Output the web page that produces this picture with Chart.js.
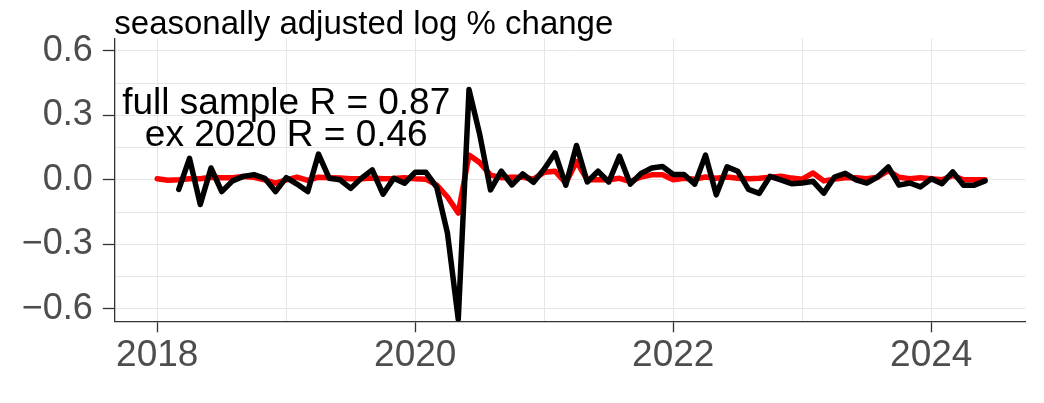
<!DOCTYPE html>
<html lang="en">
<head>
  <meta charset="UTF-8">
  <title>seasonally adjusted log % change</title>
  <script src="https://cdn.jsdelivr.net/npm/chart.js"></script>
  <style>
    body { margin: 0; background: #fff; }
    #wrap { width: 1044px; height: 403px; }
  </style>
</head>
<body>
  <div id="wrap"><canvas id="grafico" width="1044" height="403"></canvas></div>

  <script>
    // monthly observations, Jan 2018 - Jun 2024
    const months = [
      '2018-01','2018-02','2018-03','2018-04','2018-05','2018-06','2018-07','2018-08','2018-09','2018-10','2018-11','2018-12',
      '2019-01','2019-02','2019-03','2019-04','2019-05','2019-06','2019-07','2019-08','2019-09','2019-10','2019-11','2019-12',
      '2020-01','2020-02','2020-03','2020-04','2020-05','2020-06','2020-07','2020-08','2020-09','2020-10','2020-11','2020-12',
      '2021-01','2021-02','2021-03','2021-04','2021-05','2021-06','2021-07','2021-08','2021-09','2021-10','2021-11','2021-12',
      '2022-01','2022-02','2022-03','2022-04','2022-05','2022-06','2022-07','2022-08','2022-09','2022-10','2022-11','2022-12',
      '2023-01','2023-02','2023-03','2023-04','2023-05','2023-06','2023-07','2023-08','2023-09','2023-10','2023-11','2023-12',
      '2024-01','2024-02','2024-03','2024-04','2024-05','2024-06'
    ];

    const redSeries = [
      0.005, -0.002, 0.000, 0.005, 0.005, 0.012, 0.010, 0.010, 0.015, 0.012, 0.000, -0.016,
      0.000, 0.012, -0.003, 0.012, 0.010, 0.008, 0.005, 0.005, 0.008, 0.005, 0.006, 0.010,
      0.005, 0.003, -0.025, -0.080, -0.155, 0.115, 0.080, 0.022, 0.010, 0.012, 0.012, 0.003,
      0.035, 0.040, -0.015, 0.085, 0.000, 0.000, 0.000, 0.007, -0.008, 0.013, 0.023, 0.023,
      0.000, 0.007, 0.003, 0.013, 0.007, 0.013, 0.007, 0.005, 0.007, 0.012, 0.017, 0.008,
      0.003, 0.032, -0.005, 0.003, 0.010, 0.010, 0.005, 0.012, 0.043, 0.012, 0.005, 0.010,
      0.005, 0.000, 0.020, 0.000, 0.000, 0.000
    ];

    const blackSeries = [
      null, null, -0.045, 0.100, -0.115, 0.055, -0.055, -0.005, 0.016, 0.024, 0.007, -0.055,
      0.010, -0.020, -0.055, 0.120, 0.007, 0.000, -0.040, 0.008, 0.046, -0.067, 0.007, -0.016,
      0.035, 0.035, -0.035, -0.250, -0.650, 0.420, 0.210, -0.047, 0.040, -0.024, 0.028, -0.012,
      0.050, 0.125, -0.025, 0.160, -0.010, 0.040, -0.010, 0.110, -0.020, 0.030, 0.055, 0.062,
      0.025, 0.025, -0.020, 0.115, -0.070, 0.060, 0.040, -0.045, -0.063, 0.016, 0.000, -0.018,
      -0.015, -0.007, -0.062, 0.013, 0.030, 0.000, -0.015, 0.013, 0.060, -0.025, -0.015, -0.033,
      0.005, -0.018, 0.037, -0.025, -0.025, -0.005
    ];

    const xTicks = [2018, 2019, 2020, 2021, 2022, 2023, 2024];
    const xLabelled = [2018, 2020, 2022, 2024];
    const yTicks = [-0.6, -0.45, -0.3, -0.15, 0, 0.15, 0.3, 0.45, 0.6];
    const yLabelled = [-0.6, -0.3, 0, 0.3, 0.6];

    const titulo = 'seasonally adjusted log % change';
    const notas = ['full sample R = 0.87', 'ex 2020 R = 0.46'];

    const FUENTE = '"Liberation Sans", Arial, sans-serif';

    function mesADecimal(m) {
      const [a, mes] = m.split('-').map(Number);
      return a + (mes - 1) / 12;
    }

    function puntos(serie) {
      return months.map((m, i) => ({ x: mesADecimal(m), y: serie[i] }));
    }

    function etiquetaY(v) {
      if (Math.abs(v) < 1e-9) return '0.0';
      const s = Math.abs(v).toFixed(1);
      return v < 0 ? '\u2212' + s : s;
    }

    const textos = {
      id: 'textos',
      afterDatasetsDraw(chart) {
        const ctx = chart.ctx;
        const x = chart.scales.x, y = chart.scales.y;
        ctx.save();
        ctx.fillStyle = '#000';
        ctx.font = '37px ' + FUENTE;
        ctx.textAlign = 'center';
        ctx.textBaseline = 'middle';
        ctx.fillText(notas[0], x.getPixelForValue(2019), y.getPixelForValue(0.355));
        ctx.fillText(notas[1], x.getPixelForValue(2019), y.getPixelForValue(0.207));
        ctx.restore();
      },
      afterDraw(chart) {
        const ctx = chart.ctx;
        ctx.save();
        ctx.fillStyle = '#000';
        ctx.font = '33px ' + FUENTE;
        ctx.textAlign = 'left';
        ctx.textBaseline = 'alphabetic';
        ctx.fillText(titulo, chart.chartArea.left, 34);
        ctx.restore();
      }
    };

    new Chart(document.getElementById('grafico').getContext('2d'), {
      type: 'line',
      data: {
        datasets: [
          {
            label: 'black',
            data: puntos(blackSeries),
            borderColor: '#000000',
            borderWidth: 5.5,
            pointRadius: 0,
            borderJoinStyle: 'round',
            borderCapStyle: 'round',
            tension: 0
          },
          {
            label: 'red',
            data: puntos(redSeries),
            borderColor: '#ff0000',
            borderWidth: 5.5,
            pointRadius: 0,
            borderJoinStyle: 'round',
            borderCapStyle: 'round',
            tension: 0
          }
        ]
      },
      options: {
        responsive: false,
        animation: false,
        devicePixelRatio: 1,
        layout: { padding: { left: 0, right: 18.3, top: 38.3, bottom: 0 } },
        plugins: { legend: { display: false }, tooltip: { enabled: false } },
        scales: {
          x: {
            type: 'linear',
            min: 2017.667,
            max: 2024.732,
            afterBuildTicks: axis => { axis.ticks = xTicks.map(v => ({ value: v })); },
            afterFit: axis => { axis.height = 81.7; },
            grid: {
              color: '#e6e6e6',
              lineWidth: 1,
              drawTicks: true,
              tickLength: 11,
              tickWidth: 1.3,
              tickColor: c => xLabelled.includes(c.tick && c.tick.value) ? '#333333' : 'rgba(0,0,0,0)'
            },
            border: { display: true, color: '#333333', width: 1.3 },
            ticks: {
              color: '#4d4d4d',
              font: { family: FUENTE, size: 37, lineHeight: 1.2 },
              padding: 1,
              maxRotation: 0,
              autoSkip: false,
              callback: v => xLabelled.includes(v) ? String(v) : ''
            }
          },
          y: {
            min: -0.659,
            max: 0.659,
            afterBuildTicks: axis => { axis.ticks = yTicks.map(v => ({ value: v })); },
            afterFit: axis => { axis.width = 114.3; },
            grid: {
              color: '#e6e6e6',
              lineWidth: 1,
              drawTicks: true,
              tickLength: 11.5,
              tickWidth: 1.3,
              tickColor: c => yLabelled.includes(c.tick && c.tick.value) ? '#333333' : 'rgba(0,0,0,0)'
            },
            border: { display: true, color: '#333333', width: 1.3 },
            ticks: {
              color: '#4d4d4d',
              font: { family: FUENTE, size: 36 },
              padding: 10,
              autoSkip: false,
              callback: v => yLabelled.includes(v) ? etiquetaY(v) : ''
            }
          }
        }
      },
      plugins: [textos]
    });
  </script>
</body>
</html>
